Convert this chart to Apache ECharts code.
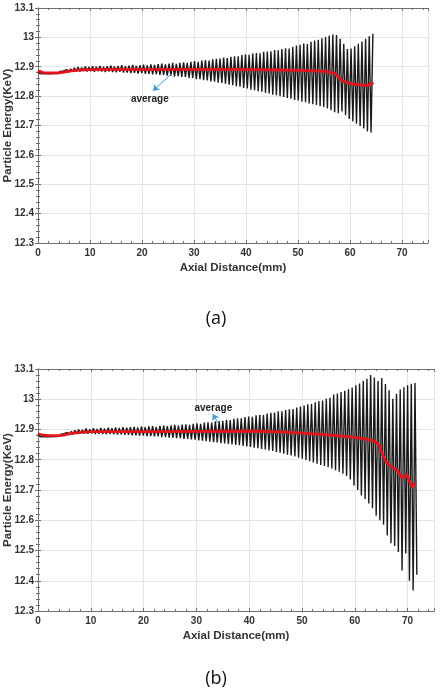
<!DOCTYPE html>
<html lang="en">
<head>
    <meta charset="UTF-8">
    <title>Particle Energy</title>
    <style>
        html,body{
            width: 100%;
            height: 100%;
            margin: 0;
            padding: 0;
            background: #fff;
        }
    </style>
</head>
<body>
<div id="main" style="width: 442px;height:688px;"></div>

<script src="https://cdn.jsdelivr.net/npm/echarts@6/dist/echarts.min.js"></script>
<script>
    // distance (mm) between two successive peaks of the energy oscillation
    var step = 0.7;

    // (a) peak / trough energies per oscillation, keV
    var peaksA = [
        12.884, 12.883, 12.882, 12.882, 12.882, 12.883, 12.884, 12.886, 12.890, 12.893,
        12.896, 12.899, 12.897, 12.901, 12.899, 12.902, 12.900, 12.903, 12.900, 12.902,
        12.904, 12.901, 12.903, 12.905, 12.902, 12.904, 12.906, 12.903, 12.905, 12.907,
        12.905, 12.908, 12.906, 12.909, 12.911, 12.908, 12.911, 12.913, 12.910, 12.913,
        12.915, 12.913, 12.917, 12.919, 12.917, 12.921, 12.923, 12.921, 12.925, 12.927,
        12.928, 12.931, 12.930, 12.934, 12.936, 12.936, 12.940, 12.942, 12.941, 12.945,
        12.947, 12.946, 12.951, 12.952, 12.953, 12.957, 12.956, 12.960, 12.963, 12.962,
        12.968, 12.972, 12.975, 12.979, 12.977, 12.985, 12.989, 12.992, 12.997, 13.001,
        13.006, 13.010, 13.008, 12.995, 12.978, 12.960, 12.962, 12.970, 12.978, 12.986,
        12.995, 13.004, 13.012
    ];
    var troughsA = [
        12.877, 12.876, 12.876, 12.876, 12.877, 12.877, 12.879, 12.881, 12.882, 12.883,
        12.884, 12.884, 12.886, 12.884, 12.885, 12.883, 12.885, 12.884, 12.882, 12.884,
        12.882, 12.881, 12.883, 12.880, 12.880, 12.878, 12.879, 12.877, 12.878, 12.876,
        12.876, 12.874, 12.875, 12.872, 12.872, 12.870, 12.870, 12.867, 12.868, 12.865,
        12.865, 12.862, 12.862, 12.858, 12.858, 12.854, 12.853, 12.850, 12.849, 12.846,
        12.845, 12.842, 12.839, 12.837, 12.834, 12.832, 12.828, 12.826, 12.822, 12.820,
        12.817, 12.815, 12.811, 12.809, 12.805, 12.803, 12.800, 12.797, 12.794, 12.791,
        12.787, 12.785, 12.781, 12.779, 12.775, 12.772, 12.770, 12.766, 12.763, 12.758,
        12.752, 12.745, 12.742, 12.748, 12.735, 12.722, 12.714, 12.706, 12.698, 12.690,
        12.680, 12.676
    ];
    // (a) average energy
    var avgDistA = [0, 1, 2, 3, 4, 5, 6, 7, 8, 10, 14, 18, 22, 26, 30, 34, 38, 42, 46, 50,
        52, 54, 55, 56, 57, 57.5, 58, 58.5, 59, 60, 61, 62, 63, 63.5, 64, 64.5];
    var avgA = [12.886, 12.880, 12.879, 12.879, 12.879, 12.882, 12.885, 12.887, 12.889, 12.890,
        12.891, 12.891, 12.890, 12.891, 12.891, 12.891, 12.891, 12.890, 12.889, 12.888,
        12.887, 12.885, 12.884, 12.882, 12.877, 12.870, 12.860, 12.853, 12.848, 12.843,
        12.840, 12.838, 12.837, 12.837, 12.840, 12.846];

    // (b) peak / trough energies per oscillation, keV
    var peaksB = [
        12.885, 12.883, 12.882, 12.882, 12.882, 12.883, 12.884, 12.886, 12.890, 12.894,
        12.897, 12.900, 12.899, 12.903, 12.901, 12.904, 12.902, 12.905, 12.903, 12.906,
        12.904, 12.907, 12.905, 12.908, 12.906, 12.908, 12.909, 12.907, 12.910, 12.908,
        12.910, 12.911, 12.909, 12.912, 12.913, 12.911, 12.914, 12.915, 12.913, 12.916,
        12.917, 12.915, 12.919, 12.920, 12.919, 12.923, 12.924, 12.923, 12.927, 12.928,
        12.929, 12.932, 12.931, 12.935, 12.937, 12.937, 12.941, 12.943, 12.942, 12.947,
        12.949, 12.948, 12.953, 12.955, 12.956, 12.960, 12.960, 12.964, 12.967, 12.968,
        12.973, 12.976, 12.979, 12.983, 12.984, 12.990, 12.993, 12.996, 13.002, 13.005,
        13.016, 13.019, 13.024, 13.028, 13.033, 13.039, 13.046, 13.052, 13.060, 13.068,
        13.080, 13.072, 13.060, 13.070, 13.050, 13.030, 13.002, 13.018, 13.032, 13.040,
        13.046, 13.051, 13.054
    ];
    var troughsB = [
        12.877, 12.876, 12.876, 12.876, 12.877, 12.877, 12.879, 12.881, 12.882, 12.884,
        12.885, 12.886, 12.887, 12.886, 12.887, 12.885, 12.886, 12.885, 12.884, 12.885,
        12.884, 12.883, 12.884, 12.882, 12.882, 12.881, 12.881, 12.880, 12.880, 12.878,
        12.878, 12.877, 12.877, 12.875, 12.875, 12.873, 12.873, 12.871, 12.871, 12.869,
        12.869, 12.867, 12.866, 12.864, 12.863, 12.861, 12.860, 12.858, 12.857, 12.855,
        12.854, 12.852, 12.851, 12.849, 12.848, 12.846, 12.844, 12.842, 12.840, 12.838,
        12.836, 12.834, 12.831, 12.829, 12.826, 12.823, 12.820, 12.817, 12.814, 12.811,
        12.807, 12.803, 12.799, 12.795, 12.791, 12.787, 12.783, 12.779, 12.775, 12.771,
        12.765, 12.760, 12.754, 12.746, 12.735, 12.715, 12.700, 12.682, 12.670, 12.655,
        12.640, 12.615, 12.600, 12.585, 12.550, 12.524, 12.515, 12.495, 12.434, 12.490,
        12.400, 12.368, 12.420
    ];
    // (b) average energy
    var avgDistB = [0, 1, 2, 3, 4, 5, 6, 7, 10, 20, 30, 40, 46, 50, 55, 60, 62, 63, 64,
        64.6, 65.2, 65.8, 66.5, 67.3, 68, 68.9, 69.4, 69.8, 70.2, 70.8, 71.1, 71.5];
    var avgB = [12.886, 12.881, 12.880, 12.880, 12.880, 12.882, 12.886, 12.889, 12.893, 12.893,
        12.894, 12.895, 12.892, 12.888, 12.882, 12.874, 12.868, 12.865, 12.857,
        12.848, 12.820, 12.795, 12.782, 12.772, 12.765, 12.740, 12.745, 12.752, 12.735,
        12.710, 12.712, 12.722];

    // "average" callouts: text point, arrow tail, arrow head (mm, keV)
    var noteA = {text: [21.5, 12.79], from: [25.6, 12.875], to: [22.1, 12.818]};
    var noteB = {text: [33.2, 12.97], from: [34.2, 12.918], to: [33.1, 12.951]};

    var xTicks = {min: 0, max: 75, interval: 10};
    var yTicks = {min: 12.3, max: 13.1, interval: 0.1};

    function trace(peaks, troughs) {
        var d = [];
        peaks.forEach(function (p, i) {
            d.push([i * step, p]);
            if (troughs[i] != null) d.push([i * step + step / 2, troughs[i]]);
        });
        return d;
    }
    function pairs(xs, ys) {
        return xs.map(function (x, i) { return [x, ys[i]]; });
    }

    var font = 'Liberation Sans, Arial, sans-serif';
    var frame = '#6e6e6e';
    function xAxes(grid) {
        return [{
            type: 'value', gridIndex: grid, position: 'bottom',
            min: xTicks.min, max: xTicks.max, interval: xTicks.interval,
            name: 'Axial Distance(mm)', nameLocation: 'middle', nameGap: 19, nameMoveOverlap: false,
            nameTextStyle: {fontFamily: font, fontWeight: 'bold', fontSize: 11.5, color: '#333'},
            axisLine: {lineStyle: {color: frame, width: 1}},
            axisTick: {inside: true, length: 3, lineStyle: {color: frame}},
            minorTick: {show: true, splitNumber: 5, length: 2, lineStyle: {color: frame}},
            axisLabel: {margin: 5, showMaxLabel: false, fontFamily: font, fontWeight: 'bold', fontSize: 10, color: '#333'},
            splitLine: {show: true, lineStyle: {color: '#e4e4e4', width: 1}}
        }, {
            type: 'value', gridIndex: grid, position: 'top',
            min: xTicks.min, max: xTicks.max, interval: xTicks.interval,
            axisLine: {lineStyle: {color: frame, width: 1}},
            axisTick: {inside: true, length: 3, lineStyle: {color: frame}},
            minorTick: {show: true, splitNumber: 5, length: 2, lineStyle: {color: frame}},
            axisLabel: {show: false},
            splitLine: {show: false}
        }];
    }
    function yAxes(grid) {
        return [{
            type: 'value', gridIndex: grid, position: 'left',
            min: yTicks.min, max: yTicks.max, interval: yTicks.interval,
            name: 'Particle Energy(KeV)', nameLocation: 'middle', nameGap: 24, nameMoveOverlap: false,
            nameTextStyle: {fontFamily: font, fontWeight: 'bold', fontSize: 11.5, color: '#333'},
            axisLine: {show: true, lineStyle: {color: frame, width: 1}},
            axisTick: {show: true, inside: true, length: 3, lineStyle: {color: frame}},
            minorTick: {show: true, splitNumber: 5, length: 2, lineStyle: {color: frame}},
            axisLabel: {margin: 4, fontFamily: font, fontWeight: 'bold', fontSize: 10, color: '#333'},
            splitLine: {show: true, lineStyle: {color: '#e4e4e4', width: 1}}
        }, {
            type: 'value', gridIndex: grid, position: 'right',
            min: yTicks.min, max: yTicks.max, interval: yTicks.interval,
            axisLine: {show: true, lineStyle: {color: frame, width: 1}},
            axisTick: {show: true, inside: true, length: 3, lineStyle: {color: frame}},
            minorTick: {show: true, splitNumber: 5, length: 2, lineStyle: {color: frame}},
            axisLabel: {show: false},
            splitLine: {show: false}
        }];
    }
    function seriesFor(grid, peaks, troughs, avgX, avgY, note) {
        return [{
            type: 'line', xAxisIndex: grid * 2, yAxisIndex: grid * 2,
            data: trace(peaks, troughs),
            showSymbol: false, silent: true, z: 2,
            lineStyle: {color: '#000', width: 1.4, opacity: 0.9}
        }, {
            type: 'line', xAxisIndex: grid * 2, yAxisIndex: grid * 2,
            data: pairs(avgX, avgY),
            showSymbol: false, silent: true, z: 3,
            lineStyle: {color: '#e3131b', width: 2.8},
            markPoint: {
                symbol: 'circle', symbolSize: 0, silent: true,
                label: {show: true, position: 'inside', formatter: 'average',
                    fontFamily: font, fontWeight: 'bold', fontSize: 10, color: '#222'},
                data: [{coord: note.text}]
            },
            markLine: {
                silent: true, symbol: ['none', 'arrow'], symbolSize: 6,
                lineStyle: {color: '#3d9ad6', width: 1, type: 'solid'},
                label: {show: false},
                data: [[{coord: note.from}, {coord: note.to}]]
            }
        }];
    }

    var myChart = echarts.init(document.getElementById('main'));
    myChart.setOption({
        animation: false,
        title: [
            {text: '(a)', left: 211, top: 305, textAlign: 'center',
                textStyle: {fontFamily: 'Open Sans', fontWeight: 'normal', fontSize: 18, color: '#111'}},
            {text: '(b)', left: 211, top: 665, textAlign: 'center',
                textStyle: {fontFamily: 'Open Sans', fontWeight: 'normal', fontSize: 18, color: '#111'}}
        ],
        grid: [
            {left: 38, top: 8, width: 390, height: 235, outerBoundsMode: 'none'},
            {left: 38, top: 369, width: 396, height: 242, outerBoundsMode: 'none'}
        ],
        xAxis: xAxes(0).concat(xAxes(1)),
        yAxis: yAxes(0).concat(yAxes(1)),
        series: seriesFor(0, peaksA, troughsA, avgDistA, avgA, noteA)
            .concat(seriesFor(1, peaksB, troughsB, avgDistB, avgB, noteB))
    });
</script>
</body>
</html>
